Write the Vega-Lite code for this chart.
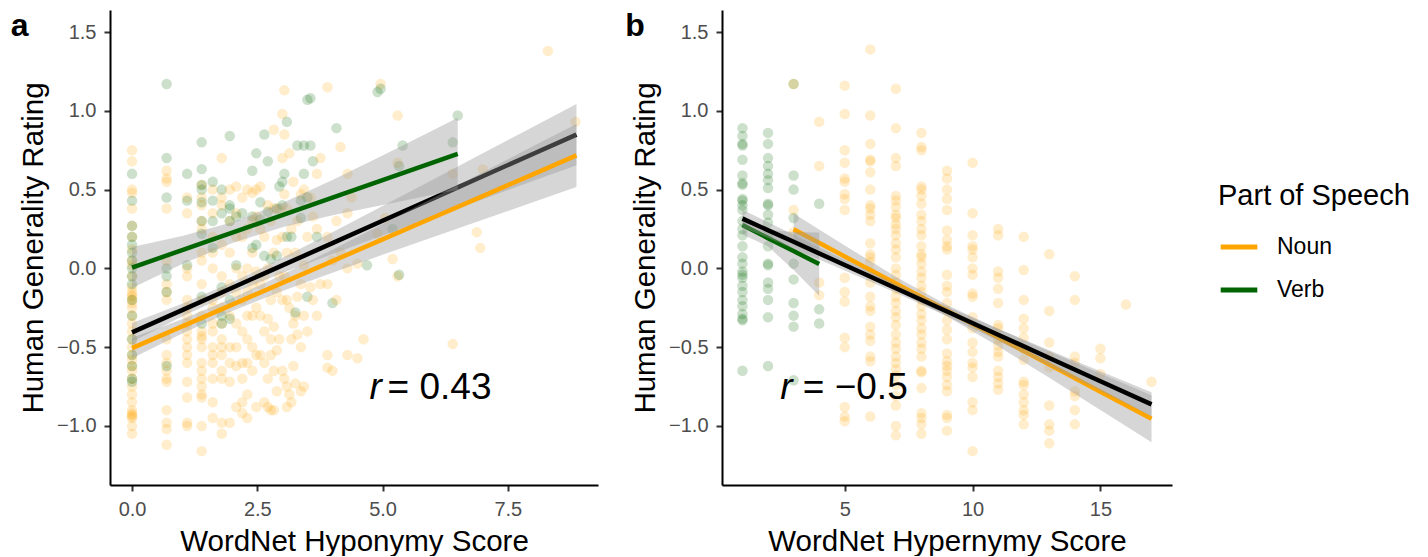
{
"$schema": "https://vega.github.io/schema/vega-lite/v6.json",
"background": "white",
"padding": {"left": 10, "top": 10, "right": 0, "bottom": 0},
"config": {
  "font": "Liberation Sans",
  "view": {"stroke": null},
  "concat": {"spacing": 27},
  "axis": {"domainColor": "black", "domainWidth": 2, "tickColor": "#333333", "tickWidth": 2, "tickSize": 6, "labelColor": "#4d4d4d", "labelFontSize": 20, "labelPadding": 8, "titleFontSize": 29.5, "titleFontWeight": "normal", "titleColor": "black", "grid": false, "labelFont": "Liberation Sans", "titleFont": "Liberation Sans", "titlePadding": 8}
},
"datasets": {
"ptsA": [
{"x":0,"y":0.75,"g":"Noun"},{"x":0,"y":0.68,"g":"Noun"},{"x":0,"y":0.5,"g":"Noun"},{"x":0,"y":0.48,"g":"Noun"},{"x":0,"y":0.38,"g":"Noun"},{"x":0,"y":0.27,"g":"Noun"},{"x":0,"y":0.2,"g":"Noun"},{"x":0,"y":0.12,"g":"Noun"},{"x":0,"y":0.05,"g":"Noun"},{"x":0,"y":0.02,"g":"Noun"},{"x":0,"y":-0.05,"g":"Noun"},{"x":0,"y":-0.12,"g":"Noun"},{"x":0,"y":-0.15,"g":"Noun"},{"x":0,"y":-0.17,"g":"Noun"},{"x":0,"y":-0.18,"g":"Noun"},{"x":0,"y":-0.2,"g":"Noun"},{"x":0,"y":-0.22,"g":"Noun"},{"x":0,"y":-0.25,"g":"Noun"},{"x":0,"y":-0.3,"g":"Noun"},{"x":0,"y":-0.35,"g":"Noun"},{"x":0,"y":-0.4,"g":"Noun"},{"x":0,"y":-0.45,"g":"Noun"},{"x":0,"y":-0.5,"g":"Noun"},{"x":0,"y":-0.55,"g":"Noun"},{"x":0,"y":-0.58,"g":"Noun"},{"x":0,"y":-0.62,"g":"Noun"},{"x":0,"y":-0.65,"g":"Noun"},{"x":0,"y":-0.7,"g":"Noun"},{"x":0,"y":-0.75,"g":"Noun"},{"x":0,"y":-0.8,"g":"Noun"},{"x":0,"y":-0.85,"g":"Noun"},{"x":0,"y":-0.9,"g":"Noun"},{"x":0,"y":-0.92,"g":"Noun"},{"x":0,"y":-0.93,"g":"Noun"},{"x":0,"y":-0.94,"g":"Noun"},{"x":0,"y":-0.95,"g":"Noun"},{"x":0,"y":-1.0,"g":"Noun"},{"x":0,"y":-1.05,"g":"Noun"},
{"x":0,"y":0.6,"g":"Verb"},{"x":0,"y":0.43,"g":"Verb"},{"x":0,"y":0.27,"g":"Verb"},{"x":0,"y":0.2,"g":"Verb"},{"x":0,"y":0.15,"g":"Verb"},{"x":0,"y":0.1,"g":"Verb"},{"x":0,"y":0.05,"g":"Verb"},{"x":0,"y":0.0,"g":"Verb"},{"x":0,"y":-0.05,"g":"Verb"},{"x":0,"y":-0.1,"g":"Verb"},{"x":0,"y":-0.2,"g":"Verb"},{"x":0,"y":-0.3,"g":"Verb"},{"x":0,"y":-0.45,"g":"Verb"},{"x":0,"y":-0.55,"g":"Verb"},{"x":0,"y":-0.62,"g":"Verb"},{"x":0,"y":-0.7,"g":"Verb"},{"x":0,"y":-0.72,"g":"Verb"},
{"x":0.69,"y":0.62,"g":"Noun"},{"x":0.69,"y":0.57,"g":"Noun"},{"x":0.69,"y":0.55,"g":"Noun"},{"x":0.69,"y":0.38,"g":"Noun"},{"x":0.69,"y":0.05,"g":"Noun"},{"x":0.69,"y":-0.1,"g":"Noun"},{"x":0.69,"y":-0.15,"g":"Noun"},{"x":0.69,"y":-0.2,"g":"Noun"},{"x":0.69,"y":-0.45,"g":"Noun"},{"x":0.69,"y":-0.55,"g":"Noun"},{"x":0.69,"y":-0.6,"g":"Noun"},{"x":0.69,"y":-0.65,"g":"Noun"},{"x":0.69,"y":-0.7,"g":"Noun"},{"x":0.69,"y":-0.72,"g":"Noun"},{"x":0.69,"y":-0.9,"g":"Noun"},{"x":0.69,"y":-0.98,"g":"Noun"},{"x":0.69,"y":-1.02,"g":"Noun"},{"x":0.69,"y":-1.12,"g":"Noun"},
{"x":0.69,"y":1.17,"g":"Verb"},{"x":0.69,"y":0.7,"g":"Verb"},{"x":0.69,"y":0.45,"g":"Verb"},{"x":0.69,"y":0.0,"g":"Verb"},{"x":0.69,"y":-0.05,"g":"Verb"},{"x":0.69,"y":-0.15,"g":"Verb"},{"x":0.69,"y":-0.62,"g":"Verb"},
{"x":1.1,"y":0.45,"g":"Noun"},{"x":1.1,"y":0.35,"g":"Noun"},{"x":1.1,"y":0.0,"g":"Noun"},{"x":1.1,"y":-0.05,"g":"Noun"},{"x":1.1,"y":-0.2,"g":"Noun"},{"x":1.1,"y":-0.25,"g":"Noun"},{"x":1.1,"y":-0.3,"g":"Noun"},{"x":1.1,"y":-0.35,"g":"Noun"},{"x":1.1,"y":-0.4,"g":"Noun"},{"x":1.1,"y":-0.45,"g":"Noun"},{"x":1.1,"y":-0.5,"g":"Noun"},{"x":1.1,"y":-0.55,"g":"Noun"},{"x":1.1,"y":-0.6,"g":"Noun"},{"x":1.1,"y":-0.72,"g":"Noun"},{"x":1.1,"y":-0.82,"g":"Noun"},{"x":1.1,"y":-0.98,"g":"Noun"},{"x":1.1,"y":-1.0,"g":"Noun"},
{"x":1.1,"y":0.6,"g":"Verb"},{"x":1.1,"y":0.43,"g":"Verb"},{"x":1.1,"y":0.02,"g":"Verb"},
{"x":1.39,"y":0.53,"g":"Noun"},{"x":1.39,"y":0.45,"g":"Noun"},{"x":1.39,"y":0.4,"g":"Noun"},{"x":1.39,"y":0.3,"g":"Noun"},{"x":1.39,"y":0.25,"g":"Noun"},{"x":1.39,"y":0.1,"g":"Noun"},{"x":1.39,"y":0.05,"g":"Noun"},{"x":1.39,"y":-0.1,"g":"Noun"},{"x":1.39,"y":-0.2,"g":"Noun"},{"x":1.39,"y":-0.3,"g":"Noun"},{"x":1.39,"y":-0.4,"g":"Noun"},{"x":1.39,"y":-0.43,"g":"Noun"},{"x":1.39,"y":-0.45,"g":"Noun"},{"x":1.39,"y":-0.5,"g":"Noun"},{"x":1.39,"y":-0.6,"g":"Noun"},{"x":1.39,"y":-0.65,"g":"Noun"},{"x":1.39,"y":-0.7,"g":"Noun"},{"x":1.39,"y":-0.75,"g":"Noun"},{"x":1.39,"y":-0.8,"g":"Noun"},{"x":1.39,"y":-0.82,"g":"Noun"},{"x":1.39,"y":-1.0,"g":"Noun"},{"x":1.39,"y":-1.16,"g":"Noun"},
{"x":1.39,"y":0.8,"g":"Verb"},{"x":1.39,"y":0.63,"g":"Verb"},{"x":1.39,"y":0.53,"g":"Verb"},{"x":1.39,"y":0.5,"g":"Verb"},{"x":1.39,"y":0.42,"g":"Verb"},{"x":1.39,"y":0.3,"g":"Verb"},{"x":1.39,"y":0.22,"g":"Verb"},{"x":1.39,"y":-0.18,"g":"Verb"},{"x":1.39,"y":-0.35,"g":"Verb"},
{"x":1.61,"y":0.5,"g":"Noun"},{"x":1.61,"y":0.35,"g":"Noun"},{"x":1.61,"y":0.2,"g":"Noun"},{"x":1.61,"y":0.1,"g":"Noun"},{"x":1.61,"y":0.0,"g":"Noun"},{"x":1.61,"y":-0.2,"g":"Noun"},{"x":1.61,"y":-0.25,"g":"Noun"},{"x":1.61,"y":-0.35,"g":"Noun"},{"x":1.61,"y":-0.4,"g":"Noun"},{"x":1.61,"y":-0.5,"g":"Noun"},{"x":1.61,"y":-0.55,"g":"Noun"},{"x":1.61,"y":-0.6,"g":"Noun"},{"x":1.61,"y":-0.7,"g":"Noun"},{"x":1.61,"y":-0.85,"g":"Noun"},{"x":1.61,"y":-0.95,"g":"Noun"},
{"x":1.61,"y":0.55,"g":"Verb"},{"x":1.61,"y":0.43,"g":"Verb"},{"x":1.61,"y":0.3,"g":"Verb"},{"x":1.61,"y":0.13,"g":"Verb"},
{"x":1.79,"y":0.7,"g":"Noun"},{"x":1.79,"y":0.45,"g":"Noun"},{"x":1.79,"y":0.4,"g":"Noun"},{"x":1.79,"y":0.15,"g":"Noun"},{"x":1.79,"y":-0.05,"g":"Noun"},{"x":1.79,"y":-0.15,"g":"Noun"},{"x":1.79,"y":-0.25,"g":"Noun"},{"x":1.79,"y":-0.35,"g":"Noun"},{"x":1.79,"y":-0.45,"g":"Noun"},{"x":1.79,"y":-0.5,"g":"Noun"},{"x":1.79,"y":-0.55,"g":"Noun"},{"x":1.79,"y":-0.65,"g":"Noun"},{"x":1.79,"y":-0.7,"g":"Noun"},{"x":1.79,"y":-0.98,"g":"Noun"},{"x":1.79,"y":-1.05,"g":"Noun"},
{"x":1.79,"y":0.5,"g":"Verb"},{"x":1.79,"y":0.35,"g":"Verb"},{"x":1.79,"y":-0.12,"g":"Verb"},{"x":1.79,"y":-0.3,"g":"Verb"},{"x":1.79,"y":-0.35,"g":"Verb"},
{"x":1.95,"y":0.5,"g":"Noun"},{"x":1.95,"y":0.3,"g":"Noun"},{"x":1.95,"y":0.1,"g":"Noun"},{"x":1.95,"y":-0.1,"g":"Noun"},{"x":1.95,"y":-0.3,"g":"Noun"},{"x":1.95,"y":-0.5,"g":"Noun"},{"x":1.95,"y":-0.6,"g":"Noun"},{"x":1.95,"y":-0.72,"g":"Noun"},{"x":1.95,"y":-0.98,"g":"Noun"},
{"x":1.95,"y":0.84,"g":"Verb"},{"x":1.95,"y":0.4,"g":"Verb"},{"x":1.95,"y":0.38,"g":"Verb"},{"x":1.95,"y":0.3,"g":"Verb"},{"x":1.95,"y":-0.2,"g":"Verb"},{"x":1.95,"y":-0.32,"g":"Verb"},
{"x":2.08,"y":0.52,"g":"Noun"},{"x":2.08,"y":0.35,"g":"Noun"},{"x":2.08,"y":0.2,"g":"Noun"},{"x":2.08,"y":0.0,"g":"Noun"},{"x":2.08,"y":-0.15,"g":"Noun"},{"x":2.08,"y":-0.35,"g":"Noun"},{"x":2.08,"y":-0.5,"g":"Noun"},{"x":2.08,"y":-0.62,"g":"Noun"},{"x":2.08,"y":-0.88,"g":"Noun"},
{"x":2.08,"y":0.33,"g":"Verb"},{"x":2.08,"y":0.02,"g":"Verb"},
{"x":2.2,"y":0.45,"g":"Noun"},{"x":2.2,"y":0.2,"g":"Noun"},{"x":2.2,"y":-0.05,"g":"Noun"},{"x":2.2,"y":-0.2,"g":"Noun"},{"x":2.2,"y":-0.4,"g":"Noun"},{"x":2.2,"y":-0.6,"g":"Noun"},{"x":2.2,"y":-0.7,"g":"Noun"},{"x":2.2,"y":-0.85,"g":"Noun"},{"x":2.2,"y":-0.92,"g":"Noun"},
{"x":2.2,"y":0.35,"g":"Verb"},
{"x":2.3,"y":0.5,"g":"Noun"},{"x":2.3,"y":0.25,"g":"Noun"},{"x":2.3,"y":0.0,"g":"Noun"},{"x":2.3,"y":-0.15,"g":"Noun"},{"x":2.3,"y":-0.3,"g":"Noun"},{"x":2.3,"y":-0.45,"g":"Noun"},{"x":2.3,"y":-0.6,"g":"Noun"},{"x":2.3,"y":-0.8,"g":"Noun"},{"x":2.3,"y":-0.95,"g":"Noun"},
{"x":2.4,"y":0.48,"g":"Noun"},{"x":2.4,"y":0.3,"g":"Noun"},{"x":2.4,"y":0.1,"g":"Noun"},{"x":2.4,"y":-0.1,"g":"Noun"},{"x":2.4,"y":-0.3,"g":"Noun"},{"x":2.4,"y":-0.5,"g":"Noun"},{"x":2.4,"y":-0.65,"g":"Noun"},
{"x":2.4,"y":0.62,"g":"Verb"},{"x":2.4,"y":0.33,"g":"Verb"},{"x":2.4,"y":0.13,"g":"Verb"},
{"x":2.48,"y":0.5,"g":"Noun"},{"x":2.48,"y":0.33,"g":"Noun"},{"x":2.48,"y":-0.02,"g":"Noun"},{"x":2.48,"y":-0.25,"g":"Noun"},{"x":2.48,"y":-0.55,"g":"Noun"},{"x":2.48,"y":-0.88,"g":"Noun"},
{"x":2.48,"y":0.73,"g":"Verb"},{"x":2.48,"y":0.15,"g":"Verb"},
{"x":2.56,"y":0.52,"g":"Noun"},{"x":2.56,"y":0.25,"g":"Noun"},{"x":2.56,"y":-0.1,"g":"Noun"},{"x":2.56,"y":-0.3,"g":"Noun"},{"x":2.56,"y":-0.55,"g":"Noun"},
{"x":2.56,"y":0.42,"g":"Verb"},{"x":2.56,"y":0.31,"g":"Verb"},
{"x":2.64,"y":0.2,"g":"Noun"},{"x":2.64,"y":-0.05,"g":"Noun"},{"x":2.64,"y":-0.4,"g":"Noun"},{"x":2.64,"y":-0.6,"g":"Noun"},{"x":2.64,"y":-0.85,"g":"Noun"},
{"x":2.64,"y":0.85,"g":"Verb"},{"x":2.64,"y":0.08,"g":"Verb"},
{"x":2.71,"y":0.4,"g":"Noun"},{"x":2.71,"y":0.0,"g":"Noun"},{"x":2.71,"y":-0.32,"g":"Noun"},{"x":2.71,"y":-0.7,"g":"Noun"},{"x":2.71,"y":-0.88,"g":"Noun"},
{"x":2.71,"y":0.68,"g":"Verb"},{"x":2.71,"y":0.36,"g":"Verb"},
{"x":2.77,"y":0.3,"g":"Noun"},{"x":2.77,"y":-0.2,"g":"Noun"},{"x":2.77,"y":-0.45,"g":"Noun"},{"x":2.77,"y":-0.55,"g":"Noun"},{"x":2.77,"y":-0.9,"g":"Noun"},
{"x":2.77,"y":0.06,"g":"Verb"},
{"x":2.83,"y":0.88,"g":"Noun"},{"x":2.83,"y":0.38,"g":"Noun"},{"x":2.83,"y":0.1,"g":"Noun"},{"x":2.83,"y":-0.37,"g":"Noun"},{"x":2.83,"y":-0.65,"g":"Noun"},{"x":2.83,"y":-0.9,"g":"Noun"},
{"x":2.89,"y":0.18,"g":"Noun"},{"x":2.89,"y":-0.15,"g":"Noun"},{"x":2.89,"y":-0.52,"g":"Noun"},{"x":2.89,"y":-0.78,"g":"Noun"},
{"x":2.89,"y":0.38,"g":"Verb"},{"x":2.89,"y":0.08,"g":"Verb"},
{"x":2.94,"y":0.38,"g":"Noun"},{"x":2.94,"y":-0.05,"g":"Noun"},{"x":2.94,"y":-0.45,"g":"Noun"},
{"x":2.94,"y":0.52,"g":"Verb"},
{"x":3.0,"y":0.98,"g":"Noun"},{"x":3.0,"y":0.7,"g":"Noun"},{"x":3.0,"y":0.2,"g":"Noun"},{"x":3.0,"y":-0.2,"g":"Noun"},{"x":3.0,"y":-0.65,"g":"Noun"},
{"x":3.0,"y":0.55,"g":"Verb"},{"x":3.0,"y":0.4,"g":"Verb"},
{"x":3.04,"y":1.13,"g":"Noun"},{"x":3.04,"y":0.85,"g":"Noun"},{"x":3.04,"y":0.47,"g":"Noun"},{"x":3.04,"y":-0.05,"g":"Noun"},{"x":3.04,"y":-0.7,"g":"Noun"},
{"x":3.04,"y":0.6,"g":"Verb"},
{"x":3.09,"y":0.38,"g":"Noun"},{"x":3.09,"y":0.1,"g":"Noun"},{"x":3.09,"y":-0.2,"g":"Noun"},{"x":3.09,"y":-0.75,"g":"Noun"},{"x":3.09,"y":-0.88,"g":"Noun"},
{"x":3.09,"y":0.93,"g":"Verb"},{"x":3.09,"y":0.2,"g":"Verb"},
{"x":3.14,"y":0.73,"g":"Noun"},{"x":3.14,"y":-0.25,"g":"Noun"},{"x":3.14,"y":-0.8,"g":"Noun"},
{"x":3.18,"y":0.25,"g":"Noun"},{"x":3.18,"y":-0.45,"g":"Noun"},{"x":3.18,"y":-0.85,"g":"Noun"},
{"x":3.18,"y":0.2,"g":"Verb"},
{"x":3.22,"y":0.55,"g":"Noun"},{"x":3.22,"y":-0.35,"g":"Noun"},{"x":3.22,"y":-0.62,"g":"Noun"},
{"x":3.26,"y":0.1,"g":"Noun"},{"x":3.26,"y":-0.3,"g":"Noun"},{"x":3.26,"y":-0.73,"g":"Noun"},
{"x":3.26,"y":-0.28,"g":"Verb"},
{"x":3.3,"y":0.3,"g":"Noun"},{"x":3.3,"y":-0.18,"g":"Noun"},{"x":3.3,"y":-0.42,"g":"Noun"},
{"x":3.3,"y":0.78,"g":"Verb"},
{"x":3.37,"y":0.47,"g":"Noun"},{"x":3.37,"y":-0.1,"g":"Noun"},{"x":3.37,"y":-0.5,"g":"Noun"},{"x":3.37,"y":-0.78,"g":"Noun"},
{"x":3.37,"y":0.43,"g":"Verb"},{"x":3.37,"y":0.32,"g":"Verb"},
{"x":3.43,"y":0.5,"g":"Noun"},{"x":3.43,"y":0.02,"g":"Noun"},{"x":3.43,"y":-0.3,"g":"Noun"},{"x":3.43,"y":-0.75,"g":"Noun"},
{"x":3.43,"y":0.6,"g":"Verb"},{"x":3.43,"y":0.78,"g":"Verb"},
{"x":3.5,"y":0.2,"g":"Noun"},{"x":3.5,"y":-0.4,"g":"Noun"},
{"x":3.5,"y":1.07,"g":"Verb"},{"x":3.5,"y":0.45,"g":"Verb"},{"x":3.5,"y":-0.18,"g":"Verb"},
{"x":3.56,"y":0.45,"g":"Noun"},{"x":3.56,"y":-0.12,"g":"Noun"},
{"x":3.56,"y":1.08,"g":"Verb"},{"x":3.56,"y":0.78,"g":"Verb"},
{"x":3.61,"y":0.33,"g":"Noun"},{"x":3.61,"y":-0.2,"g":"Noun"},
{"x":3.61,"y":0.68,"g":"Verb"},
{"x":3.69,"y":0.6,"g":"Noun"},{"x":3.69,"y":0.25,"g":"Noun"},{"x":3.69,"y":-0.3,"g":"Noun"},
{"x":3.69,"y":0.2,"g":"Verb"},
{"x":3.76,"y":0.7,"g":"Noun"},{"x":3.76,"y":-0.1,"g":"Noun"},
{"x":3.9,"y":1.15,"g":"Noun"},{"x":3.9,"y":0.2,"g":"Noun"},{"x":3.9,"y":-0.1,"g":"Noun"},{"x":3.9,"y":-0.55,"g":"Noun"},{"x":3.9,"y":-0.63,"g":"Noun"},
{"x":4.0,"y":0.05,"g":"Noun"},{"x":4.0,"y":-0.65,"g":"Noun"},
{"x":4.0,"y":-0.22,"g":"Verb"},
{"x":4.08,"y":0.3,"g":"Noun"},{"x":4.08,"y":-0.2,"g":"Noun"},
{"x":4.08,"y":0.89,"g":"Verb"},
{"x":4.16,"y":0.77,"g":"Noun"},{"x":4.16,"y":0.1,"g":"Noun"},
{"x":4.3,"y":0.6,"g":"Noun"},{"x":4.3,"y":0.35,"g":"Noun"},{"x":4.3,"y":0.0,"g":"Noun"},{"x":4.3,"y":-0.55,"g":"Noun"},
{"x":4.38,"y":0.45,"g":"Noun"},
{"x":4.5,"y":-0.57,"g":"Noun"},{"x":4.5,"y":0.03,"g":"Noun"},
{"x":4.62,"y":-0.45,"g":"Noun"},
{"x":4.69,"y":0.02,"g":"Verb"},
{"x":4.9,"y":0.22,"g":"Noun"},{"x":4.9,"y":1.12,"g":"Verb"},
{"x":4.96,"y":1.17,"g":"Noun"},{"x":4.96,"y":1.14,"g":"Verb"},
{"x":5.05,"y":0.32,"g":"Noun"},
{"x":5.2,"y":0.06,"g":"Noun"},{"x":5.2,"y":0.25,"g":"Verb"},
{"x":5.3,"y":-0.05,"g":"Noun"},{"x":5.3,"y":0.67,"g":"Noun"},{"x":5.3,"y":0.97,"g":"Noun"},
{"x":5.33,"y":-0.04,"g":"Verb"},{"x":5.33,"y":0.65,"g":"Verb"},
{"x":5.4,"y":0.78,"g":"Verb"},
{"x":6.4,"y":-0.48,"g":"Noun"},{"x":6.4,"y":0.6,"g":"Noun"},{"x":6.4,"y":0.8,"g":"Verb"},
{"x":6.5,"y":0.97,"g":"Verb"},
{"x":6.88,"y":0.23,"g":"Noun"},{"x":6.95,"y":0.13,"g":"Noun"},{"x":7.0,"y":0.63,"g":"Noun"},
{"x":8.3,"y":1.38,"g":"Noun"},{"x":8.85,"y":0.93,"g":"Noun"}
],
"ptsB": [
{"x":1,"y":0.89,"g":"Verb"},{"x":1,"y":0.84,"g":"Verb"},{"x":1,"y":0.79,"g":"Verb"},{"x":1,"y":0.78,"g":"Verb"},{"x":1,"y":0.69,"g":"Verb"},{"x":1,"y":0.59,"g":"Verb"},{"x":1,"y":0.54,"g":"Verb"},{"x":1,"y":0.53,"g":"Verb"},{"x":1,"y":0.44,"g":"Verb"},{"x":1,"y":0.43,"g":"Verb"},{"x":1,"y":0.4,"g":"Verb"},{"x":1,"y":0.37,"g":"Verb"},{"x":1,"y":0.3,"g":"Verb"},{"x":1,"y":0.25,"g":"Verb"},{"x":1,"y":0.21,"g":"Verb"},{"x":1,"y":0.14,"g":"Verb"},{"x":1,"y":0.07,"g":"Verb"},{"x":1,"y":0.03,"g":"Verb"},{"x":1,"y":-0.02,"g":"Verb"},{"x":1,"y":-0.04,"g":"Verb"},{"x":1,"y":-0.06,"g":"Verb"},{"x":1,"y":-0.11,"g":"Verb"},{"x":1,"y":-0.15,"g":"Verb"},{"x":1,"y":-0.2,"g":"Verb"},{"x":1,"y":-0.24,"g":"Verb"},{"x":1,"y":-0.29,"g":"Verb"},{"x":1,"y":-0.32,"g":"Verb"},{"x":1,"y":-0.33,"g":"Verb"},{"x":1,"y":-0.65,"g":"Verb"},
{"x":2,"y":0.86,"g":"Verb"},{"x":2,"y":0.79,"g":"Verb"},{"x":2,"y":0.7,"g":"Verb"},{"x":2,"y":0.65,"g":"Verb"},{"x":2,"y":0.6,"g":"Verb"},{"x":2,"y":0.56,"g":"Verb"},{"x":2,"y":0.51,"g":"Verb"},{"x":2,"y":0.41,"g":"Verb"},{"x":2,"y":0.4,"g":"Verb"},{"x":2,"y":0.34,"g":"Verb"},{"x":2,"y":0.29,"g":"Verb"},{"x":2,"y":0.21,"g":"Verb"},{"x":2,"y":0.14,"g":"Verb"},{"x":2,"y":0.03,"g":"Verb"},{"x":2,"y":0.02,"g":"Verb"},{"x":2,"y":-0.09,"g":"Verb"},{"x":2,"y":-0.13,"g":"Verb"},{"x":2,"y":-0.2,"g":"Verb"},{"x":2,"y":-0.31,"g":"Verb"},{"x":2,"y":-0.62,"g":"Verb"},
{"x":3,"y":1.17,"g":"Verb"},{"x":3,"y":0.59,"g":"Verb"},{"x":3,"y":0.5,"g":"Verb"},{"x":3,"y":0.32,"g":"Verb"},{"x":3,"y":0.03,"g":"Verb"},{"x":3,"y":-0.07,"g":"Verb"},{"x":3,"y":-0.22,"g":"Verb"},{"x":3,"y":-0.3,"g":"Verb"},{"x":3,"y":-0.37,"g":"Verb"},{"x":3,"y":-0.71,"g":"Verb"},
{"x":3,"y":1.17,"g":"Noun"},{"x":3,"y":0.37,"g":"Noun"},{"x":3,"y":0.23,"g":"Noun"},
{"x":4,"y":0.93,"g":"Noun"},{"x":4,"y":0.65,"g":"Noun"},{"x":4,"y":-0.09,"g":"Noun"},{"x":4,"y":-0.17,"g":"Noun"},
{"x":4,"y":0.41,"g":"Verb"},{"x":4,"y":-0.26,"g":"Verb"},{"x":4,"y":-0.35,"g":"Verb"},
{"x":5,"y":1.16,"g":"Noun"},{"x":5,"y":0.98,"g":"Noun"},{"x":5,"y":0.75,"g":"Noun"},{"x":5,"y":0.67,"g":"Noun"},{"x":5,"y":0.57,"g":"Noun"},{"x":5,"y":0.55,"g":"Noun"},{"x":5,"y":0.47,"g":"Noun"},{"x":5,"y":0.44,"g":"Noun"},{"x":5,"y":0.37,"g":"Noun"},{"x":5,"y":-0.06,"g":"Noun"},{"x":5,"y":-0.15,"g":"Noun"},{"x":5,"y":-0.21,"g":"Noun"},{"x":5,"y":-0.44,"g":"Noun"},{"x":5,"y":-0.5,"g":"Noun"},{"x":5,"y":-0.88,"g":"Noun"},{"x":5,"y":-0.94,"g":"Noun"},{"x":5,"y":-0.97,"g":"Noun"},
{"x":6,"y":1.39,"g":"Noun"},{"x":6,"y":0.97,"g":"Noun"},{"x":6,"y":0.79,"g":"Noun"},{"x":6,"y":0.69,"g":"Noun"},{"x":6,"y":0.68,"g":"Noun"},{"x":6,"y":0.61,"g":"Noun"},{"x":6,"y":0.5,"g":"Noun"},{"x":6,"y":0.4,"g":"Noun"},{"x":6,"y":0.38,"g":"Noun"},{"x":6,"y":0.34,"g":"Noun"},{"x":6,"y":0.3,"g":"Noun"},{"x":6,"y":0.16,"g":"Noun"},{"x":6,"y":0.09,"g":"Noun"},{"x":6,"y":0.07,"g":"Noun"},{"x":6,"y":0.04,"g":"Noun"},{"x":6,"y":-0.02,"g":"Noun"},{"x":6,"y":-0.09,"g":"Noun"},{"x":6,"y":-0.18,"g":"Noun"},{"x":6,"y":-0.24,"g":"Noun"},{"x":6,"y":-0.27,"g":"Noun"},{"x":6,"y":-0.37,"g":"Noun"},{"x":6,"y":-0.42,"g":"Noun"},{"x":6,"y":-0.46,"g":"Noun"},{"x":6,"y":-0.56,"g":"Noun"},{"x":6,"y":-0.59,"g":"Noun"},{"x":6,"y":-0.94,"g":"Noun"},
{"x":7,"y":1.14,"g":"Noun"},{"x":7,"y":0.89,"g":"Noun"},{"x":7,"y":0.7,"g":"Noun"},{"x":7,"y":0.65,"g":"Noun"},{"x":7,"y":0.46,"g":"Noun"},{"x":7,"y":0.43,"g":"Noun"},{"x":7,"y":0.39,"g":"Noun"},{"x":7,"y":0.34,"g":"Noun"},{"x":7,"y":0.32,"g":"Noun"},{"x":7,"y":0.28,"g":"Noun"},{"x":7,"y":0.25,"g":"Noun"},{"x":7,"y":0.21,"g":"Noun"},{"x":7,"y":0.16,"g":"Noun"},{"x":7,"y":0.12,"g":"Noun"},{"x":7,"y":0.07,"g":"Noun"},{"x":7,"y":0.0,"g":"Noun"},{"x":7,"y":-0.04,"g":"Noun"},{"x":7,"y":-0.09,"g":"Noun"},{"x":7,"y":-0.13,"g":"Noun"},{"x":7,"y":-0.18,"g":"Noun"},{"x":7,"y":-0.22,"g":"Noun"},{"x":7,"y":-0.27,"g":"Noun"},{"x":7,"y":-0.31,"g":"Noun"},{"x":7,"y":-0.36,"g":"Noun"},{"x":7,"y":-0.42,"g":"Noun"},{"x":7,"y":-0.47,"g":"Noun"},{"x":7,"y":-0.51,"g":"Noun"},{"x":7,"y":-0.56,"g":"Noun"},{"x":7,"y":-0.6,"g":"Noun"},{"x":7,"y":-0.64,"g":"Noun"},{"x":7,"y":-0.68,"g":"Noun"},{"x":7,"y":-0.74,"g":"Noun"},{"x":7,"y":-0.81,"g":"Noun"},{"x":7,"y":-0.87,"g":"Noun"},{"x":7,"y":-1.0,"g":"Noun"},{"x":7,"y":-1.06,"g":"Noun"},
{"x":8,"y":0.86,"g":"Noun"},{"x":8,"y":0.77,"g":"Noun"},{"x":8,"y":0.75,"g":"Noun"},{"x":8,"y":0.52,"g":"Noun"},{"x":8,"y":0.5,"g":"Noun"},{"x":8,"y":0.46,"g":"Noun"},{"x":8,"y":0.41,"g":"Noun"},{"x":8,"y":0.34,"g":"Noun"},{"x":8,"y":0.3,"g":"Noun"},{"x":8,"y":0.25,"g":"Noun"},{"x":8,"y":0.21,"g":"Noun"},{"x":8,"y":0.14,"g":"Noun"},{"x":8,"y":0.09,"g":"Noun"},{"x":8,"y":0.07,"g":"Noun"},{"x":8,"y":0.03,"g":"Noun"},{"x":8,"y":-0.02,"g":"Noun"},{"x":8,"y":-0.06,"g":"Noun"},{"x":8,"y":-0.11,"g":"Noun"},{"x":8,"y":-0.15,"g":"Noun"},{"x":8,"y":-0.2,"g":"Noun"},{"x":8,"y":-0.24,"g":"Noun"},{"x":8,"y":-0.29,"g":"Noun"},{"x":8,"y":-0.33,"g":"Noun"},{"x":8,"y":-0.38,"g":"Noun"},{"x":8,"y":-0.42,"g":"Noun"},{"x":8,"y":-0.47,"g":"Noun"},{"x":8,"y":-0.51,"g":"Noun"},{"x":8,"y":-0.56,"g":"Noun"},{"x":8,"y":-0.65,"g":"Noun"},{"x":8,"y":-0.66,"g":"Noun"},{"x":8,"y":-0.76,"g":"Noun"},{"x":8,"y":-0.92,"g":"Noun"},{"x":8,"y":-0.95,"g":"Noun"},{"x":8,"y":-0.99,"g":"Noun"},{"x":8,"y":-1.05,"g":"Noun"},
{"x":9,"y":0.62,"g":"Noun"},{"x":9,"y":0.57,"g":"Noun"},{"x":9,"y":0.5,"g":"Noun"},{"x":9,"y":0.44,"g":"Noun"},{"x":9,"y":0.37,"g":"Noun"},{"x":9,"y":0.24,"g":"Noun"},{"x":9,"y":0.18,"g":"Noun"},{"x":9,"y":0.14,"g":"Noun"},{"x":9,"y":0.12,"g":"Noun"},{"x":9,"y":-0.04,"g":"Noun"},{"x":9,"y":-0.11,"g":"Noun"},{"x":9,"y":-0.15,"g":"Noun"},{"x":9,"y":-0.22,"g":"Noun"},{"x":9,"y":-0.27,"g":"Noun"},{"x":9,"y":-0.33,"g":"Noun"},{"x":9,"y":-0.39,"g":"Noun"},{"x":9,"y":-0.45,"g":"Noun"},{"x":9,"y":-0.54,"g":"Noun"},{"x":9,"y":-0.59,"g":"Noun"},{"x":9,"y":-0.62,"g":"Noun"},{"x":9,"y":-0.65,"g":"Noun"},{"x":9,"y":-0.69,"g":"Noun"},{"x":9,"y":-0.74,"g":"Noun"},{"x":9,"y":-0.78,"g":"Noun"},{"x":9,"y":-0.93,"g":"Noun"},{"x":9,"y":-0.95,"g":"Noun"},{"x":9,"y":-1.03,"g":"Noun"},
{"x":10,"y":0.67,"g":"Noun"},{"x":10,"y":0.35,"g":"Noun"},{"x":10,"y":0.21,"g":"Noun"},{"x":10,"y":0.14,"g":"Noun"},{"x":10,"y":0.12,"g":"Noun"},{"x":10,"y":0.07,"g":"Noun"},{"x":10,"y":0.0,"g":"Noun"},{"x":10,"y":-0.04,"g":"Noun"},{"x":10,"y":-0.16,"g":"Noun"},{"x":10,"y":-0.18,"g":"Noun"},{"x":10,"y":-0.31,"g":"Noun"},{"x":10,"y":-0.38,"g":"Noun"},{"x":10,"y":-0.47,"g":"Noun"},{"x":10,"y":-0.53,"g":"Noun"},{"x":10,"y":-0.6,"g":"Noun"},{"x":10,"y":-0.63,"g":"Noun"},{"x":10,"y":-0.69,"g":"Noun"},{"x":10,"y":-0.85,"g":"Noun"},{"x":10,"y":-0.9,"g":"Noun"},{"x":10,"y":-1.16,"g":"Noun"},
{"x":11,"y":0.25,"g":"Noun"},{"x":11,"y":0.21,"g":"Noun"},{"x":11,"y":-0.02,"g":"Noun"},{"x":11,"y":-0.06,"g":"Noun"},{"x":11,"y":-0.13,"g":"Noun"},{"x":11,"y":-0.22,"g":"Noun"},{"x":11,"y":-0.36,"g":"Noun"},{"x":11,"y":-0.38,"g":"Noun"},{"x":11,"y":-0.45,"g":"Noun"},{"x":11,"y":-0.49,"g":"Noun"},{"x":11,"y":-0.53,"g":"Noun"},{"x":11,"y":-0.56,"g":"Noun"},{"x":11,"y":-0.65,"g":"Noun"},{"x":11,"y":-0.69,"g":"Noun"},{"x":11,"y":-0.73,"g":"Noun"},{"x":11,"y":-0.77,"g":"Noun"},
{"x":12,"y":0.2,"g":"Noun"},{"x":12,"y":-0.01,"g":"Noun"},{"x":12,"y":-0.2,"g":"Noun"},{"x":12,"y":-0.32,"g":"Noun"},{"x":12,"y":-0.38,"g":"Noun"},{"x":12,"y":-0.44,"g":"Noun"},{"x":12,"y":-0.51,"g":"Noun"},{"x":12,"y":-0.58,"g":"Noun"},{"x":12,"y":-0.72,"g":"Noun"},{"x":12,"y":-0.74,"g":"Noun"},{"x":12,"y":-0.8,"g":"Noun"},{"x":12,"y":-0.85,"g":"Noun"},{"x":12,"y":-0.9,"g":"Noun"},{"x":12,"y":-0.93,"g":"Noun"},{"x":12,"y":-0.99,"g":"Noun"},
{"x":13,"y":0.09,"g":"Noun"},{"x":13,"y":-0.27,"g":"Noun"},{"x":13,"y":-0.47,"g":"Noun"},{"x":13,"y":-0.56,"g":"Noun"},{"x":13,"y":-0.63,"g":"Noun"},{"x":13,"y":-0.87,"g":"Noun"},{"x":13,"y":-0.99,"g":"Noun"},{"x":13,"y":-1.03,"g":"Noun"},{"x":13,"y":-1.11,"g":"Noun"},
{"x":14,"y":-0.05,"g":"Noun"},{"x":14,"y":-0.2,"g":"Noun"},{"x":14,"y":-0.56,"g":"Noun"},{"x":14,"y":-0.6,"g":"Noun"},{"x":14,"y":-0.78,"g":"Noun"},{"x":14,"y":-0.81,"g":"Noun"},{"x":14,"y":-0.9,"g":"Noun"},{"x":14,"y":-0.99,"g":"Noun"},
{"x":15,"y":-0.51,"g":"Noun"},{"x":15,"y":-0.57,"g":"Noun"},{"x":15,"y":-0.67,"g":"Noun"},
{"x":16,"y":-0.23,"g":"Noun"},{"x":17,"y":-0.72,"g":"Noun"}
],
"fitA": [
{"g":"All","x":0,"y":-0.406,"lo":-0.466,"hi":-0.346},{"g":"All","x":1,"y":-0.265,"lo":-0.306,"hi":-0.224},{"g":"All","x":2,"y":-0.123,"lo":-0.158,"hi":-0.088},{"g":"All","x":3,"y":0.019,"lo":-0.029,"hi":0.067},{"g":"All","x":4,"y":0.16,"lo":0.091,"hi":0.229},{"g":"All","x":5,"y":0.302,"lo":0.208,"hi":0.396},{"g":"All","x":6,"y":0.443,"lo":0.324,"hi":0.562},{"g":"All","x":7,"y":0.585,"lo":0.439,"hi":0.731},{"g":"All","x":8,"y":0.726,"lo":0.554,"hi":0.898},{"g":"All","x":8.87,"y":0.849,"lo":0.654,"hi":1.044},
{"g":"Noun","x":0,"y":-0.506,"lo":-0.571,"hi":-0.441},{"g":"Noun","x":1,"y":-0.368,"lo":-0.413,"hi":-0.323},{"g":"Noun","x":2,"y":-0.23,"lo":-0.27,"hi":-0.19},{"g":"Noun","x":3,"y":-0.092,"lo":-0.144,"hi":-0.04},{"g":"Noun","x":4,"y":0.046,"lo":-0.027,"hi":0.119},{"g":"Noun","x":5,"y":0.184,"lo":0.086,"hi":0.282},{"g":"Noun","x":6,"y":0.321,"lo":0.197,"hi":0.445},{"g":"Noun","x":7,"y":0.459,"lo":0.308,"hi":0.61},{"g":"Noun","x":8,"y":0.597,"lo":0.419,"hi":0.775},{"g":"Noun","x":8.87,"y":0.717,"lo":0.517,"hi":0.917},
{"g":"Verb","x":0,"y":0.005,"lo":-0.125,"hi":0.135},{"g":"Verb","x":1,"y":0.116,"lo":0.027,"hi":0.205},{"g":"Verb","x":2,"y":0.227,"lo":0.161,"hi":0.293},{"g":"Verb","x":3,"y":0.338,"lo":0.261,"hi":0.415},{"g":"Verb","x":4,"y":0.449,"lo":0.337,"hi":0.561},{"g":"Verb","x":5,"y":0.56,"lo":0.403,"hi":0.717},{"g":"Verb","x":6,"y":0.671,"lo":0.467,"hi":0.875},{"g":"Verb","x":6.5,"y":0.727,"lo":0.498,"hi":0.956}
],
"fitB": [
{"g":"All","x":1,"y":0.316,"lo":0.26,"hi":0.372},{"g":"All","x":3,"y":0.169,"lo":0.125,"hi":0.213},{"g":"All","x":5,"y":0.021,"lo":-0.013,"hi":0.055},{"g":"All","x":7,"y":-0.126,"lo":-0.155,"hi":-0.097},{"g":"All","x":9,"y":-0.274,"lo":-0.304,"hi":-0.244},{"g":"All","x":11,"y":-0.421,"lo":-0.459,"hi":-0.383},{"g":"All","x":13,"y":-0.569,"lo":-0.619,"hi":-0.519},{"g":"All","x":15,"y":-0.716,"lo":-0.779,"hi":-0.653},{"g":"All","x":17,"y":-0.863,"lo":-0.939,"hi":-0.787},
{"g":"Noun","x":3,"y":0.248,"lo":0.148,"hi":0.348},{"g":"Noun","x":5,"y":0.076,"lo":0.007,"hi":0.145},{"g":"Noun","x":7,"y":-0.096,"lo":-0.139,"hi":-0.053},{"g":"Noun","x":9,"y":-0.268,"lo":-0.304,"hi":-0.232},{"g":"Noun","x":11,"y":-0.439,"lo":-0.494,"hi":-0.384},{"g":"Noun","x":13,"y":-0.611,"lo":-0.695,"hi":-0.527},{"g":"Noun","x":15,"y":-0.783,"lo":-0.899,"hi":-0.667},{"g":"Noun","x":17,"y":-0.954,"lo":-1.103,"hi":-0.805},
{"g":"Verb","x":1,"y":0.275,"lo":0.215,"hi":0.335},{"g":"Verb","x":2,"y":0.192,"lo":0.14,"hi":0.244},{"g":"Verb","x":3,"y":0.11,"lo":-0.011,"hi":0.231},{"g":"Verb","x":4,"y":0.027,"lo":-0.173,"hi":0.227}
],
"annA": [{"k":"panel","x":-2.422,"y":1.474,"t":"a"},{"k":"r","x":4.74,"y":-0.83,"t":"r"},{"k":"val","x":5.1,"y":-0.83,"t":"= 0.43"}],
"annB": [{"k":"panel","x":-3.58,"y":1.474,"t":"b"},{"k":"r","x":2.48,"y":-0.83,"t":"r"},{"k":"val","x":3.36,"y":-0.83,"t":"= −0.5"}]
},
"hconcat": [
{
 "width": 488, "height": 475,
 "encoding": {
  "x": {"field": "x", "type": "quantitative", "title": "WordNet Hyponymy Score", "scale": {"domain": [-0.44, 9.3], "nice": false, "zero": false}, "axis": {"values": [0, 2.5, 5, 7.5], "format": ".1f"}},
  "y": {"field": "y", "type": "quantitative", "title": "Human Generality Rating", "scale": {"domain": [-1.375, 1.64], "nice": false, "zero": false}, "axis": {"values": [-1, -0.5, 0, 0.5, 1, 1.5], "format": ".1f"}}
 },
 "layer": [
  {"data": {"name": "ptsA"}, "mark": {"type": "circle", "size": 110, "opacity": 0.2},
   "encoding": {"fill": {"field": "g", "type": "nominal", "scale": {"domain": ["Verb", "Noun"], "range": ["#006400", "#FFA500"]}, "legend": null}}},
  {"data": {"name": "fitA"}, "transform": [{"filter": "datum.g == 'All'"}], "mark": {"type": "area", "color": "#999999", "opacity": 0.4},
   "encoding": {"y": {"field": "lo", "type": "quantitative", "title": "Human Generality Rating"}, "y2": {"field": "hi"}}},
  {"data": {"name": "fitA"}, "transform": [{"filter": "datum.g == 'All'"}], "mark": {"type": "line", "color": "black", "strokeWidth": 4.5}, "encoding": {}},
  {"data": {"name": "fitA"}, "transform": [{"filter": "datum.g == 'Noun'"}], "mark": {"type": "area", "color": "#999999", "opacity": 0.4},
   "encoding": {"y": {"field": "lo", "type": "quantitative", "title": "Human Generality Rating"}, "y2": {"field": "hi"}}},
  {"data": {"name": "fitA"}, "transform": [{"filter": "datum.g == 'Noun'"}], "mark": {"type": "line", "strokeWidth": 4.5},
   "encoding": {"color": {"field": "g", "type": "nominal", "scale": {"domain": ["Noun", "Verb"], "range": ["#FFA500", "#006400"]},
     "legend": {"orient": "none", "legendX": 1108, "legendY": 172, "title": "Part of Speech", "titleLimit": 400, "titleFontSize": 29, "titleFontWeight": "normal", "titleColor": "black", "titleFont": "Liberation Sans", "labelFontSize": 23, "labelColor": "black", "labelFont": "Liberation Sans", "symbolType": "stroke", "symbolStrokeWidth": 5, "symbolSize": 1340, "symbolOpacity": 1, "symbolOffset": 0, "labelOffset": 17, "rowPadding": 10, "titlePadding": 15, "padding": 0}}}},
  {"data": {"name": "fitA"}, "transform": [{"filter": "datum.g == 'Verb'"}], "mark": {"type": "area", "color": "#999999", "opacity": 0.4},
   "encoding": {"y": {"field": "lo", "type": "quantitative", "title": "Human Generality Rating"}, "y2": {"field": "hi"}}},
  {"data": {"name": "fitA"}, "transform": [{"filter": "datum.g == 'Verb'"}], "mark": {"type": "line", "strokeWidth": 4.5},
   "encoding": {"color": {"field": "g", "type": "nominal", "scale": {"domain": ["Noun", "Verb"], "range": ["#FFA500", "#006400"]}}}},
  {"data": {"name": "annA"}, "transform": [{"filter": "datum.k == 'panel'"}], "mark": {"type": "text", "fontSize": 32, "fontWeight": "bold", "align": "left", "baseline": "alphabetic", "color": "black"},
   "encoding": {"text": {"field": "t"}}},
  {"data": {"name": "annA"}, "transform": [{"filter": "datum.k == 'r'"}], "mark": {"type": "text", "fontStyle": "italic", "fontSize": 37, "align": "left", "baseline": "alphabetic", "color": "black"},
   "encoding": {"text": {"field": "t"}}},
  {"data": {"name": "annA"}, "transform": [{"filter": "datum.k == 'val'"}], "mark": {"type": "text", "fontSize": 37, "align": "left", "baseline": "alphabetic", "color": "black"},
   "encoding": {"text": {"field": "t"}}}
 ]
},
{
 "width": 450, "height": 475,
 "encoding": {
  "x": {"field": "x", "type": "quantitative", "title": "WordNet Hypernymy Score", "scale": {"domain": [0.2, 17.8], "nice": false, "zero": false}, "axis": {"values": [5, 10, 15], "format": "d"}},
  "y": {"field": "y", "type": "quantitative", "title": "Human Generality Rating", "scale": {"domain": [-1.375, 1.64], "nice": false, "zero": false}, "axis": {"values": [-1, -0.5, 0, 0.5, 1, 1.5], "format": ".1f"}}
 },
 "layer": [
  {"data": {"name": "ptsB"}, "mark": {"type": "circle", "size": 110, "opacity": 0.2},
   "encoding": {"fill": {"field": "g", "type": "nominal", "scale": {"domain": ["Verb", "Noun"], "range": ["#006400", "#FFA500"]}, "legend": null}}},
  {"data": {"name": "fitB"}, "transform": [{"filter": "datum.g == 'Noun'"}], "mark": {"type": "area", "color": "#999999", "opacity": 0.4},
   "encoding": {"y": {"field": "lo", "type": "quantitative", "title": "Human Generality Rating"}, "y2": {"field": "hi"}}},
  {"data": {"name": "fitB"}, "transform": [{"filter": "datum.g == 'Noun'"}], "mark": {"type": "line", "strokeWidth": 4.5},
   "encoding": {"color": {"field": "g", "type": "nominal", "scale": {"domain": ["Noun", "Verb"], "range": ["#FFA500", "#006400"]}}}},
  {"data": {"name": "fitB"}, "transform": [{"filter": "datum.g == 'Verb'"}], "mark": {"type": "area", "color": "#999999", "opacity": 0.4},
   "encoding": {"y": {"field": "lo", "type": "quantitative", "title": "Human Generality Rating"}, "y2": {"field": "hi"}}},
  {"data": {"name": "fitB"}, "transform": [{"filter": "datum.g == 'Verb'"}], "mark": {"type": "line", "strokeWidth": 4.5},
   "encoding": {"color": {"field": "g", "type": "nominal", "scale": {"domain": ["Noun", "Verb"], "range": ["#FFA500", "#006400"]}}}},
  {"data": {"name": "fitB"}, "transform": [{"filter": "datum.g == 'All'"}], "mark": {"type": "area", "color": "#999999", "opacity": 0.4},
   "encoding": {"y": {"field": "lo", "type": "quantitative", "title": "Human Generality Rating"}, "y2": {"field": "hi"}}},
  {"data": {"name": "fitB"}, "transform": [{"filter": "datum.g == 'All'"}], "mark": {"type": "line", "color": "black", "strokeWidth": 4.5}, "encoding": {}},
  {"data": {"name": "annB"}, "transform": [{"filter": "datum.k == 'panel'"}], "mark": {"type": "text", "fontSize": 32, "fontWeight": "bold", "align": "left", "baseline": "alphabetic", "color": "black"},
   "encoding": {"text": {"field": "t"}}},
  {"data": {"name": "annB"}, "transform": [{"filter": "datum.k == 'r'"}], "mark": {"type": "text", "fontStyle": "italic", "fontSize": 37, "align": "left", "baseline": "alphabetic", "color": "black"},
   "encoding": {"text": {"field": "t"}}},
  {"data": {"name": "annB"}, "transform": [{"filter": "datum.k == 'val'"}], "mark": {"type": "text", "fontSize": 37, "align": "left", "baseline": "alphabetic", "color": "black"},
   "encoding": {"text": {"field": "t"}}}
 ]
}
],
"resolve": {"scale": {"color": "shared", "fill": "shared"}}
}
